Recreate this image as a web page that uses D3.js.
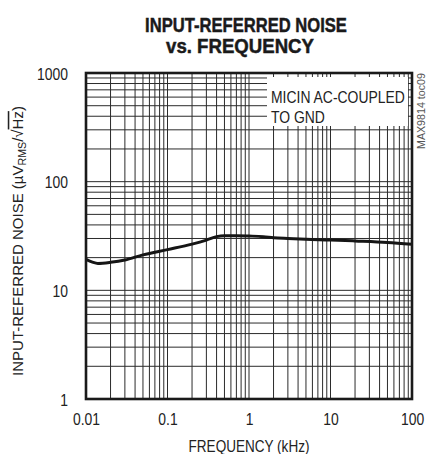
<!DOCTYPE html>
<html><head><meta charset="utf-8">
<script src="https://cdn.jsdelivr.net/npm/d3@7"></script>
<style>html,body{margin:0;padding:0;background:#fff;} svg{display:block}</style>
</head><body><svg id="chart" width="435" height="454"></svg>
<script>
// Input-referred noise density, MICIN AC-coupled to ground
const freqKHz = [0.01, 0.012, 0.014, 0.02, 0.03, 0.05, 0.1, 0.2, 0.3, 0.4, 0.5, 0.7, 1, 1.5, 2, 3, 5, 10, 20, 50, 100];
const noiseUV = [19.3, 18.2, 17.7, 18.1, 19.0, 21.2, 23.7, 26.6, 29.0, 31.2, 31.8, 31.8, 31.6, 31.2, 30.5, 30.0, 29.5, 29.1, 28.5, 27.6, 26.5];
const xTickValues = [0.01, 0.1, 1, 10, 100];
const xTickLabels = ["0.01", "0.1", "1", "10", "100"];
const yTickValues = [1, 10, 100, 1000];
const yTickLabels = ["1", "10", "100", "1000"];
const titleLines = ["INPUT-REFERRED NOISE", "vs. FREQUENCY"];
const xTitle = "FREQUENCY (kHz)";
const noteLines = ["MICIN AC-COUPLED", "TO GND"];
const partTag = "MAX9814 toc09";

const FONT = "'Liberation Sans', Arial, Helvetica, sans-serif";
const NARROW = 0.82;
const svg = d3.select("#chart");
const L = 86, R = 412, T = 73, B = 399;

const x = d3.scaleLog().domain([0.01, 100]).range([L, R]);
const y = d3.scaleLog().domain([1, 1000]).range([B, T]);

// squeeze a text element horizontally to a given width
function fitTo(sel, width) {
  const len = sel.node().getComputedTextLength();
  return width / len;
}

// grid: every 1..9 multiple in each decade
const grid = svg.append("g").attr("stroke", "#2b2b2b").attr("stroke-width", 1).attr("fill", "none");
grid.selectAll("line.v").data(x.ticks()).join("line").attr("class", "v")
  .attr("x1", d => x(d)).attr("x2", d => x(d)).attr("y1", T).attr("y2", B);
grid.selectAll("line.h").data(y.ticks()).join("line").attr("class", "h")
  .attr("y1", d => y(d)).attr("y2", d => y(d)).attr("x1", L).attr("x2", R);

// white box behind the condition note
svg.append("rect").attr("x", 267).attr("y", 77).attr("width", 141).attr("height", 49).attr("fill", "#fff");

// noise curve
const line = d3.line().x((d, i) => x(freqKHz[i])).y(d => y(d)).curve(d3.curveMonotoneX);
svg.append("path").datum(noiseUV).attr("d", line)
  .attr("fill", "none").attr("stroke", "#151515").attr("stroke-width", 3).attr("stroke-linejoin", "round");

// frame
svg.append("rect").attr("x", L).attr("y", T).attr("width", R - L).attr("height", B - T)
  .attr("fill", "none").attr("stroke", "#1a1a1a").attr("stroke-width", 2.6);

// x tick labels
const xAxis = svg.append("g").attr("transform", `translate(0,${B})`)
  .call(d3.axisBottom(x).tickValues(xTickValues).tickFormat((d, i) => xTickLabels[i]).tickSize(0).tickPadding(14));
xAxis.select(".domain").remove();
xAxis.selectAll("text").attr("font-family", FONT).attr("font-size", 17).attr("fill", "#222")
  .attr("transform", `scale(${NARROW},1)`);

// y tick labels
const yAxis = svg.append("g").attr("transform", `translate(${L},0)`)
  .call(d3.axisLeft(y).tickValues(yTickValues).tickFormat((d, i) => yTickLabels[i]).tickSize(0));
yAxis.select(".domain").remove();
yAxis.selectAll("text").attr("font-family", FONT).attr("font-size", 17).attr("fill", "#222")
  .attr("x", -18 / NARROW).attr("dy", "0.36em").attr("transform", `scale(${NARROW},1)`);

// title
const titleW = [202, 148], titleY = [32, 53], titleX = [246, 240];
titleLines.forEach((s, i) => {
  const t = svg.append("text").attr("font-family", FONT).attr("font-weight", "bold")
    .attr("font-size", 21).attr("text-anchor", "middle").attr("fill", "#1a1a1a")
    .attr("stroke", "#1a1a1a").attr("stroke-width", 0.5).text(s);
  const k = fitTo(t, titleW[i]);
  t.attr("transform", `translate(${titleX[i]},${titleY[i]}) scale(${k},1)`);
});

// x axis title
const xt = svg.append("text").attr("font-family", FONT).attr("font-size", 16).attr("text-anchor", "middle")
  .attr("fill", "#222").text(xTitle);
xt.attr("transform", `translate(${(L + R) / 2},452) scale(${fitTo(xt, 121)},1)`);

// y axis title with subscript and radical
const yt = svg.append("text").attr("font-family", FONT).attr("font-size", 15.5).attr("text-anchor", "middle")
  .attr("fill", "#222");
yt.append("tspan").text("INPUT-REFERRED NOISE (\u00B5V");
yt.append("tspan").attr("font-size", 11).attr("dy", 3).text("RMS");
yt.append("tspan").attr("dy", -3).text("/\u221A");
yt.append("tspan").attr("text-decoration", "overline").text("Hz");
yt.append("tspan").text(")");
yt.attr("transform", `translate(23,241) rotate(-90) scale(${fitTo(yt, 270)},1)`);

// condition note
noteLines.forEach((s, i) => {
  const t = svg.append("text").attr("font-family", FONT).attr("font-size", 17).attr("fill", "#222").text(s);
  t.attr("transform", `translate(271,${103 + i * 20}) scale(${NARROW},1)`);
});

// part / figure tag
const tag = svg.append("text").attr("font-family", FONT).attr("font-size", 10.5).attr("fill", "#555")
  .attr("text-anchor", "start").text(partTag);
tag.attr("transform", `translate(425,149) rotate(-90) scale(${fitTo(tag, 76)},1)`);
</script></body></html>
